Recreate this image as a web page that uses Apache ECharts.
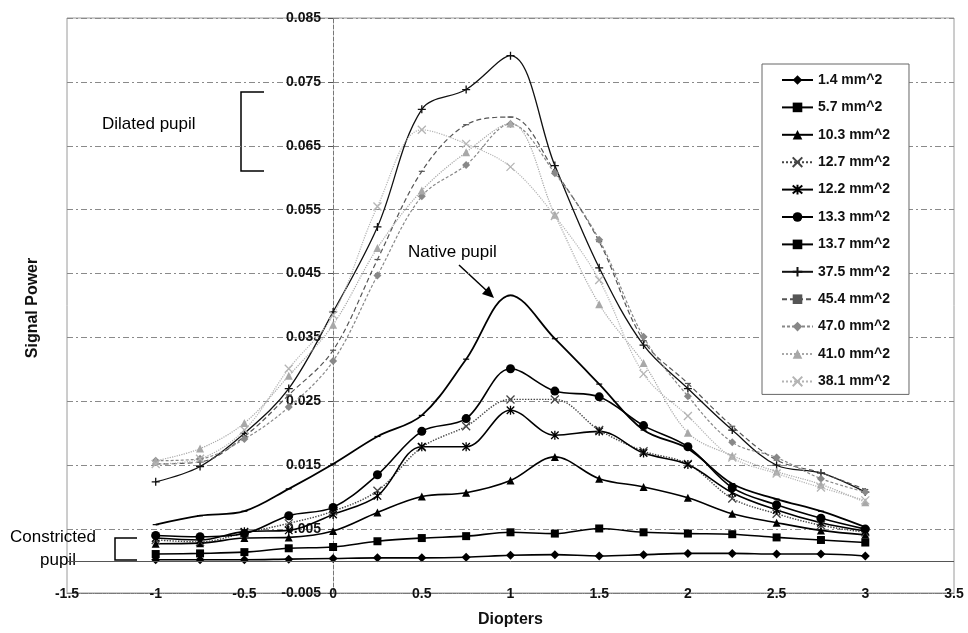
<!DOCTYPE html>
<html>
<head>
<meta charset="utf-8">
<script src="https://cdn.jsdelivr.net/npm/echarts@6/dist/echarts.min.js"></script>
<style>
  html, body { margin: 0; padding: 0; background: #fff; }
  #main { width: 968px; height: 633px; }
</style>
</head>
<body>
<div id="main"></div>
<script>
var FONT = '"Liberation Sans", Arial, sans-serif';

// diopter positions
var xs = [-1, -0.75, -0.5, -0.25, 0, 0.25, 0.5, 0.75, 1, 1.25, 1.5, 1.75, 2, 2.25, 2.5, 2.75, 3];

// signal power per pupil area
var s1_4  = [0.0002, 0.0002, 0.0002, 0.0003, 0.0004, 0.0005, 0.0005, 0.0006, 0.0009, 0.0010, 0.0008, 0.0010, 0.0012, 0.0012, 0.0011, 0.0011, 0.0008];
var s5_7  = [0.0011, 0.0012, 0.0014, 0.0020, 0.0022, 0.0031, 0.0036, 0.0039, 0.0045, 0.0043, 0.0051, 0.0045, 0.0043, 0.0042, 0.0037, 0.0033, 0.0029];
var s10_3 = [0.0027, 0.0028, 0.0036, 0.0037, 0.0047, 0.0076, 0.0101, 0.0107, 0.0126, 0.0163, 0.0129, 0.0116, 0.0099, 0.0074, 0.0060, 0.0048, 0.0041];
var s12_7 = [0.0033, 0.0030, 0.0044, 0.0059, 0.0078, 0.0110, 0.0178, 0.0211, 0.0253, 0.0253, 0.0205, 0.0172, 0.0152, 0.0098, 0.0074, 0.0056, 0.0045];
var s12_2 = [0.0036, 0.0033, 0.0046, 0.0048, 0.0073, 0.0102, 0.0179, 0.0179, 0.0236, 0.0197, 0.0203, 0.0169, 0.0151, 0.0107, 0.0080, 0.0060, 0.0047];
var s13_3 = [0.0040, 0.0038, 0.0043, 0.0071, 0.0084, 0.0135, 0.0203, 0.0223, 0.0301, 0.0266, 0.0257, 0.0212, 0.0179, 0.0115, 0.0088, 0.0067, 0.0050];
var s13_7 = [0.0057, 0.0071, 0.0078, 0.0113, 0.0152, 0.0195, 0.0228, 0.0316, 0.0416, 0.0348, 0.0277, 0.0205, 0.0176, 0.0121, 0.0097, 0.0078, 0.0053];
var s37_5 = [0.0124, 0.0148, 0.0200, 0.0270, 0.0390, 0.0523, 0.0707, 0.0738, 0.0791, 0.0619, 0.0459, 0.0338, 0.0270, 0.0205, 0.0150, 0.0138, 0.0108];
var s45_4 = [0.0152, 0.0155, 0.0195, 0.0260, 0.0330, 0.0472, 0.0610, 0.0683, 0.0695, 0.0610, 0.0500, 0.0345, 0.0278, 0.0211, 0.0158, 0.0138, 0.0112];
var s47_0 = [0.0157, 0.0160, 0.0191, 0.0241, 0.0313, 0.0447, 0.0571, 0.0620, 0.0684, 0.0607, 0.0503, 0.0351, 0.0258, 0.0186, 0.0162, 0.0129, 0.0108];
var s41_0 = [0.0157, 0.0176, 0.0216, 0.0290, 0.0370, 0.0490, 0.0580, 0.0640, 0.0685, 0.0542, 0.0402, 0.0310, 0.0201, 0.0165, 0.0140, 0.0120, 0.0092];
var s38_1 = [0.0152, 0.0160, 0.0205, 0.0301, 0.0385, 0.0555, 0.0675, 0.0653, 0.0617, 0.0540, 0.0440, 0.0293, 0.0227, 0.0162, 0.0137, 0.0115, 0.0095];

var X_MARK = 'path://M0,0L10,10M10,0L0,10';
var STAR_MARK = 'path://M0,0L10,10M10,0L0,10M5,-1L5,11';
var PLUS_MARK = 'path://M5,0L5,10M0,5L10,5';
var DASH_MARK = 'path://M0,0H10V2H0Z';

function pts(vals) {
  return xs.map(function (x, i) { return [x, vals[i]]; });
}

function line(name, vals, color, type, width, symbol, size, strokeOnly) {
  return {
    name: name,
    type: 'line',
    smooth: 0.35,
    data: pts(vals),
    symbol: symbol,
    symbolSize: size,
    symbolKeepAspect: true,
    lineStyle: { color: color, type: type, width: width },
    itemStyle: strokeOnly
      ? { color: color, borderColor: color, borderWidth: 1.3 }
      : { color: color, borderWidth: 0 },
    emphasis: { disabled: true }
  };
}

var myChart = echarts.init(document.getElementById('main'));

var series = [
  line('1.4 mm^2', s1_4, '#000', 'solid', 1.6, 'diamond', 9, false),
  line('5.7 mm^2', s5_7, '#000', 'solid', 1.6, 'rect', 8, false),
  line('10.3 mm^2', s10_3, '#000', 'solid', 1.6, 'triangle', 8, false),
  line('12.7 mm^2', s12_7, '#444', 'dotted', 1.4, X_MARK, 8, true),
  line('12.2 mm^2', s12_2, '#000', 'solid', 1.6, STAR_MARK, 9, true),
  line('13.3 mm^2', s13_3, '#000', 'solid', 1.6, 'circle', 9, false),
  line('13.7 mm^2', s13_7, '#000', 'solid', 1.8, DASH_MARK, 6, false),
  line('37.5 mm^2', s37_5, '#111', 'solid', 1.3, PLUS_MARK, 8, true),
  line('45.4 mm^2', s45_4, '#555', [5, 3], 1.2, DASH_MARK, 6, false),
  line('47.0 mm^2', s47_0, '#888', [3, 2], 1.2, 'diamond', 8, false),
  line('41.0 mm^2', s41_0, '#a8a8a8', 'dotted', 1.2, 'triangle', 8, false),
  line('38.1 mm^2', s38_1, '#b4b4b4', 'dotted', 1.2, X_MARK, 8, true)
];

// x axis line crossing at zero signal
series[0].markLine = {
  silent: true,
  symbol: 'none',
  label: { show: false },
  lineStyle: { color: '#555', type: 'solid', width: 1 },
  data: [{ yAxis: 0 }]
};

option = {
  animation: false,
  backgroundColor: '#fff',
  textStyle: { fontFamily: FONT },
  grid: {
    left: 67, right: 14, top: 18, bottom: 35,
    show: true, borderColor: '#9a9a9a', borderWidth: 1
  },
  legend: {
    orient: 'vertical',
    left: 762, top: 64,
    padding: [9, 19, 6, 19],
    itemGap: 13.4,
    itemWidth: 31,
    itemHeight: 12,
    backgroundColor: '#fff',
    borderColor: '#666',
    borderWidth: 1,
    borderRadius: 0,
    textStyle: { fontSize: 14, fontWeight: 'bold', color: '#111', fontFamily: FONT }
  },
  xAxis: {
    type: 'value',
    min: -1.5, max: 3.5, interval: 0.5,
    name: 'Diopters',
    nameLocation: 'middle',
    nameGap: 19,
    nameTextStyle: { fontSize: 16, fontWeight: 'bold', color: '#111', fontFamily: FONT },
    axisLine: { show: true, onZero: false, lineStyle: { color: '#777', type: 'dotted' } },
    axisTick: { show: false },
    splitLine: { show: false },
    axisLabel: {
      margin: -6, fontSize: 14, fontWeight: 'bold', color: '#111', fontFamily: FONT,
      showMinLabel: true, showMaxLabel: true
    }
  },
  yAxis: {
    type: 'value',
    min: -0.005, max: 0.085, interval: 0.01,
    position: 'left',
    offset: -266,
    axisLine: { show: true, onZero: false, lineStyle: { color: '#777', type: 'dashed' } },
    axisTick: { show: true, length: 5, lineStyle: { color: '#555' } },
    splitLine: { show: true, lineStyle: { color: '#8a8a8a', type: [6, 3, 2, 3], width: 1 } },
    axisLabel: {
      margin: 12, fontSize: 14, fontWeight: 'bold', color: '#111', fontFamily: FONT,
      showMinLabel: true, showMaxLabel: true,
      formatter: function (v) { return v.toFixed(3); }
    }
  },
  graphic: [
    { type: 'text', x: 33, y: 308, rotation: Math.PI / 2,
      style: { text: 'Signal Power', fill: '#111', font: 'bold 16px ' + FONT,
               textAlign: 'center', textVerticalAlign: 'middle' } },
    { type: 'text', x: 102, y: 124,
      style: { text: 'Dilated pupil', fill: '#000', font: '17px ' + FONT, textVerticalAlign: 'middle' } },
    { type: 'polyline', shape: { points: [[264, 92], [241, 92], [241, 171], [264, 171]] },
      style: { stroke: '#000', lineWidth: 1.5, fill: null } },
    { type: 'text', x: 408, y: 252,
      style: { text: 'Native pupil', fill: '#000', font: '17px ' + FONT, textVerticalAlign: 'middle' } },
    { type: 'line', shape: { x1: 459, y1: 265, x2: 487, y2: 291 },
      style: { stroke: '#000', lineWidth: 1.5 } },
    { type: 'polygon', shape: { points: [[494, 298], [482, 294], [489, 286]] },
      style: { fill: '#000' } },
    { type: 'text', x: 10, y: 537,
      style: { text: 'Constricted', fill: '#000', font: '17px ' + FONT, textVerticalAlign: 'middle' } },
    { type: 'text', x: 40, y: 560,
      style: { text: 'pupil', fill: '#000', font: '17px ' + FONT, textVerticalAlign: 'middle' } },
    { type: 'polyline', shape: { points: [[137, 538], [115, 538], [115, 560], [137, 560]] },
      style: { stroke: '#000', lineWidth: 1.5, fill: null } }
  ],
  series: series
};

myChart.setOption(option);
</script>
</body>
</html>
